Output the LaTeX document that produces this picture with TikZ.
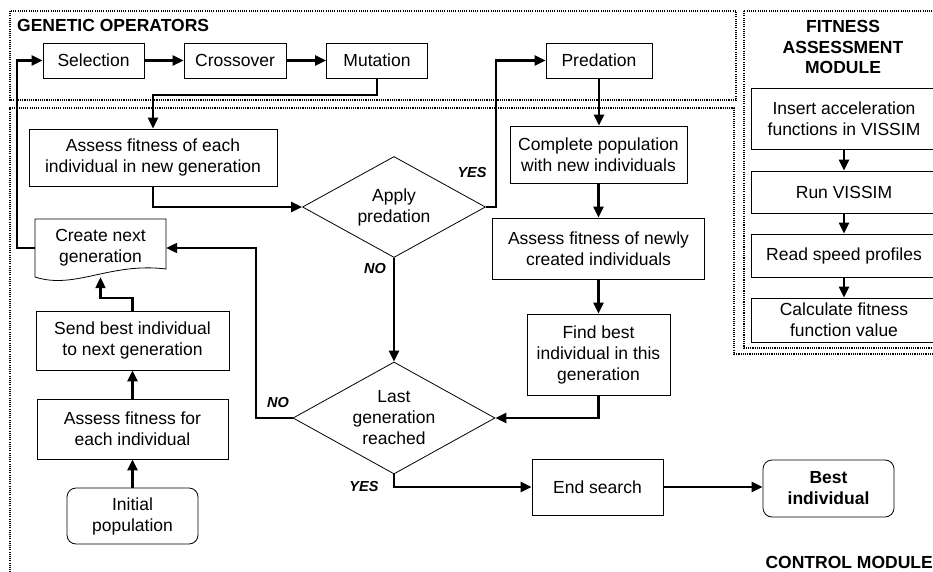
\documentclass[tikz,border=0pt]{standalone}
\usepackage{fontspec}
\setmainfont{Liberation Sans}
\usetikzlibrary{arrows.meta,shapes.geometric,calc}
\begin{document}
\begin{tikzpicture}[x=1pt,y=-1pt,
  every node/.style={font=\fontsize{17.5}{21}\selectfont, align=center, inner sep=0pt},
  stepbox/.style={draw, line width=0.8pt, rectangle},
  roundbox/.style={stepbox, rounded corners=9pt},
  decision/.style={draw, line width=0.8pt, diamond, aspect=1.8},
  conn/.style={line width=2.2pt, -{Triangle[length=11pt,width=10pt]}},
  lab/.style={font=\fontsize{14.5}{17}\selectfont\bfseries\itshape},
  head/.style={font=\fontsize{17.5}{20.5}\selectfont\bfseries},
  frame/.style={line width=1.1pt, dash pattern=on 1.1pt off 1.1pt}]
\useasboundingbox (0,0) rectangle (933,572);

% frames
\draw[frame] (10,11) rectangle (736,100);
\draw[frame] (744,11) rectangle (950,348);
\draw[frame] (10,590) -- (10,108) -- (734,108) -- (734,354) -- (950,354);

% headings
\node[head, anchor=west] (hgen) at (17,25) {GENETIC OPERATORS};
\node[head] (hfit) at (843,47) {FITNESS\\ASSESSMENT\\MODULE};
\node[head, anchor=east] (hctl) at (933,562) {CONTROL MODULE};

% genetic operators
\node[stepbox, minimum width=101, minimum height=35] (sel) at (93.5,60.5) {Selection};
\node[stepbox, minimum width=102, minimum height=35] (cross) at (235,60.5) {Crossover};
\node[stepbox, minimum width=101, minimum height=35] (mut) at (377,60.5) {Mutation};
\node[stepbox, minimum width=106, minimum height=35] (pred) at (599,60.5) {Predation};

% control module
\node[stepbox, minimum width=248, minimum height=57] (afn) at (153,157.5) {Assess fitness of each\\individual in new generation};
\node[decision, minimum width=183, minimum height=101] (ap) at (394,207) {Apply\\predation};
\node[stepbox, minimum width=177, minimum height=57] (cp) at (598.5,154.5) {Complete population\\with new individuals};
\node[stepbox, minimum width=212, minimum height=61] (afc) at (598.5,248.5) {Assess fitness of newly\\created individuals};
\node[stepbox, minimum width=143, minimum height=81] (fb) at (598.5,354.5) {Find best\\individual in this\\generation};
\node[decision, minimum width=202, minimum height=112] (lg) at (394,418) {Last\\generation\\reached};
\node[minimum width=131, minimum height=58] (cng) at (100.5,248) {Create next\\generation};
\draw[line width=0.8pt] (35,277) -- (35,219) -- (166,219) -- (166,269) .. controls (110,262) and (75,290) .. (35,277);
\node[stepbox, minimum width=193, minimum height=59] (sb) at (132.5,340.5) {Send best individual\\to next generation};
\node[stepbox, minimum width=191, minimum height=60] (afe) at (132.5,429) {Assess fitness for\\each individual};
\node[roundbox, minimum width=131, minimum height=56] (ip) at (132.5,516) {Initial\\population};
\node[stepbox, minimum width=131, minimum height=56] (es) at (597.5,487) {End search};
\node[roundbox, minimum width=131, minimum height=57, font=\fontsize{17.5}{21}\selectfont\bfseries] (bi) at (828.5,488.5) {Best\\individual};

% fitness module
\node[stepbox, minimum width=186, minimum height=61] (f1) at (844,118.5) {Insert acceleration\\functions in VISSIM};
\node[stepbox, minimum width=186, minimum height=42] (f2) at (844,192) {Run VISSIM};
\node[stepbox, minimum width=186, minimum height=43] (f3) at (844,255.5) {Read speed profiles};
\node[stepbox, minimum width=186, minimum height=44] (f4) at (844,320) {Calculate fitness\\function value};

% labels
\node[lab] (yes1) at (472,173) {YES};
\node[lab] (no1) at (375,269) {NO};
\node[lab] (no2) at (278,403) {NO};
\node[lab] (yes2) at (364,487) {YES};

% connectors
\draw[conn] (sel) -- (cross);
\draw[conn] (cross) -- (mut);
\draw[conn] (mut.south) -- ++(0,17) -| (afn.north);
\draw[conn] (afn.south) |- (ap.west);
\draw[conn] (ap.east) -- ++(10,0) |- (pred.west);
\draw[conn] (pred.south) -- (pred.south |- cp.north);
\draw[conn] (cp.south) -- (afc.north);
\draw[conn] (afc.south) -- (fb.north);
\draw[conn] (fb.south) |- (lg.east);
\draw[conn] (ap.south) -- (lg.north);
\draw[conn] (lg.west) -- ++(-37,0) |- (cng.east);
\draw[conn] (cng.west) -- (17,248) |- (sel.west);
\draw[conn] (sb.north) -- ++(0,-13) -| (cng.south);
\draw[conn] (afe.north) -- (sb.south);
\draw[conn] (ip.north) -- (afe.south);
\draw[conn] (lg.south) |- (es.west);
\draw[conn] (es.east) -- (es.east -| bi.west);
\draw[conn] (f1.south) -- (f2.north);
\draw[conn] (f2.south) -- (f3.north);
\draw[conn] (f3.south) -- (f4.north);
\end{tikzpicture}
\end{document}
